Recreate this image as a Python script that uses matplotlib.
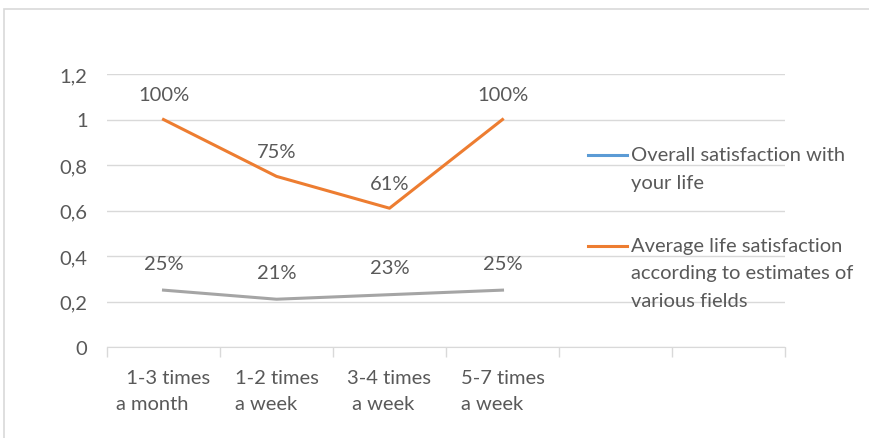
import matplotlib.pyplot as plt
from matplotlib.lines import Line2D
from matplotlib.patches import Rectangle
import numpy as np

# categories (last two slots are empty in the original chart)
categories = ["  1-3 times\na month", "1-2 times\na week", "3-4 times\n a week", "5-7 times\na week", "", ""]
overall = [np.nan] * 6          # blue series: only present in legend
average_fields = [1.0, 0.75, 0.61, 1.0]
gray_series = [0.25, 0.21, 0.23, 0.25]
orange_labels = ["100%", "75%", "61%", "100%"]
gray_labels = ["25%", "21%", "23%", "25%"]
legend_labels = ["Overall satisfaction with\nyour life",
                 "Average life satisfaction\naccording to estimates of\nvarious fields"]
yticks = [0, 0.2, 0.4, 0.6, 0.8, 1.0, 1.2]
ytick_labels = ["0", "0,2", "0,4", "0,6", "0,8", "1", "1,2"]

plt.rcParams['font.family'] = ['Lato', 'DejaVu Sans']
fs = 14.5
txt = '#595959'
blue, orange, gray = '#5B9BD5', '#ED7D31', '#A5A5A5'

W, H = 869, 439
fig = plt.figure(figsize=(W / 100, H / 100), dpi=100)
ax = fig.add_axes([107 / W, 1 - 348 / H, (785 - 107) / W, (348 - 75) / H])

# outer chart border (only top and left visible)
fig.add_artist(Rectangle((4 / W, -0.1), 1.2, 1 - 10 / H + 0.1, transform=fig.transFigure,
                         fill=False, edgecolor='#D9D9D9', lw=1.2))

x = np.arange(len(categories))
ax.plot(x, overall, color=blue, lw=2.2)
ax.plot(x[:4], average_fields, color=orange, lw=2.2, solid_joinstyle='round')
ax.plot(x[:4], gray_series, color=gray, lw=2.2, solid_joinstyle='round')

for xi, v, lab in zip(x, average_fields, orange_labels):
    ax.annotate(lab, (xi, v), xytext=(0, 18), textcoords='offset points',
                ha='center', va='center', fontsize=fs, color=txt)
for xi, v, lab in zip(x, gray_series, gray_labels):
    ax.annotate(lab, (xi, v), xytext=(0, 19.5), textcoords='offset points',
                ha='center', va='center', fontsize=fs, color=txt)

ax.set_xlim(-0.5, len(categories) - 0.5)
ax.set_ylim(0, 1.2)
ax.set_yticks(yticks)
ax.set_yticklabels(ytick_labels, fontsize=fs, color=txt)
ax.set_xticks(x)
ax.set_xticklabels(categories, fontsize=fs, color=txt, linespacing=1.65,
                   multialignment='left')
ax.set_xticks(np.arange(-0.5, len(categories), 1), minor=True)
ax.tick_params(axis='x', which='major', length=0, pad=16)
ax.tick_params(axis='x', which='minor', length=7, color='#D9D9D9', width=1)
ax.tick_params(axis='y', length=0, pad=14)
ax.grid(axis='y', color='#D9D9D9', lw=1)
ax.set_axisbelow(True)
for s in ['top', 'right', 'left']:
    ax.spines[s].set_visible(False)
ax.spines['bottom'].set_color('#D9D9D9')

# legend on the right, drawn over the grid
for (y0, col, lab) in [(156, blue, legend_labels[0]), (247, orange, legend_labels[1])]:
    fig.add_artist(Line2D([588 / W, 627 / W], [1 - y0 / H] * 2, color=col, lw=2.2,
                          transform=fig.transFigure))
    fig.text(631 / W, 1 - (y0 - 9) / H, lab, fontsize=fs, color=txt,
             ha='left', va='top', linespacing=1.75)

fig.savefig('out.png', dpi=100, facecolor='white')
